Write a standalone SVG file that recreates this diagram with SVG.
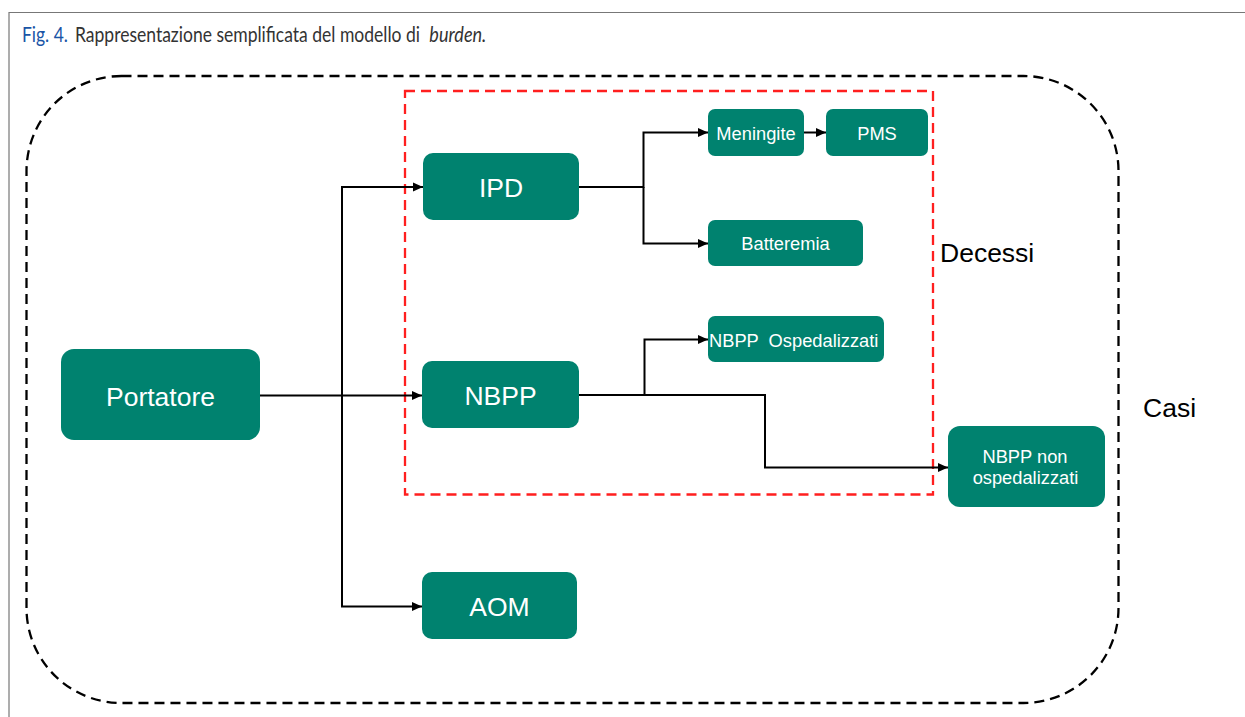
<svg xmlns="http://www.w3.org/2000/svg" width="1245" height="717" viewBox="0 0 1245 717">
  <style>
    .node { fill: #00826F; }
    .big { font-family: "Liberation Sans", Arial, sans-serif; font-size: 26.5px; fill: #ffffff; text-anchor: middle; }
    .small { font-family: "Liberation Sans", Arial, sans-serif; font-size: 18.3px; fill: #ffffff; text-anchor: middle; }
    .label { font-family: "Liberation Sans", Arial, sans-serif; font-size: 26.5px; fill: #000000; }
    .cap { font-family: Lato, "Liberation Sans", sans-serif; font-size: 20.5px; fill: #333333; }
    .edge { fill: none; stroke: #000000; stroke-width: 2; }
  </style>
  <defs>
    <marker id="arrow" viewBox="0 0 10 10" refX="10" refY="5" markerWidth="10" markerHeight="10" markerUnits="userSpaceOnUse" orient="auto">
      <path d="M0,0.5 L10,5 L0,9.5 Z" fill="#000000"/>
    </marker>
  </defs>

  <rect width="1245" height="717" fill="#ffffff"/>

  <!-- page frame -->
  <g id="frame" stroke="#777777" stroke-width="1.2" fill="none">
    <path d="M9,717 V12.5 H1245"/>
  </g>

  <!-- caption, set in a condensed cut by horizontal scaling -->
  <g id="caption" transform="translate(22,41.5) scale(0.76,1)">
    <text x="0" y="0" class="cap" style="fill:#1a55a6" textLength="60.5" lengthAdjust="spacingAndGlyphs">Fig. 4.</text>
    <text x="69.7" y="0" class="cap" textLength="454" lengthAdjust="spacingAndGlyphs">Rappresentazione semplificata del modello di</text>
    <text x="536" y="0" class="cap" font-style="italic" textLength="75" lengthAdjust="spacingAndGlyphs">burden.</text>
  </g>

  <!-- regions -->
  <g id="casi-region">
    <rect x="26.5" y="76" width="1092" height="627" rx="95" ry="95" fill="none" stroke="#000000" stroke-width="2.3" stroke-dasharray="10 6"/>
    <text x="1143" y="417" class="label">Casi</text>
  </g>
  <g id="decessi-region">
    <rect x="405" y="91" width="528" height="403.5" fill="none" stroke="#ff1f1f" stroke-width="2.3" stroke-dasharray="10 6"/>
    <text x="940" y="262" class="label">Decessi</text>
  </g>

  <!-- connectors -->
  <g id="connectors">
    <path class="edge" d="M260,395.5 H422" marker-end="url(#arrow)"/>
    <path class="edge" d="M342,606 V187 H423" marker-end="url(#arrow)"/>
    <path class="edge" d="M342,395.5 V606.5 H422" marker-end="url(#arrow)"/>
    <path class="edge" d="M579,187 H643.5 V132.5 H708" marker-end="url(#arrow)"/>
    <path class="edge" d="M643.5,187 V243.5 H708" marker-end="url(#arrow)"/>
    <path class="edge" d="M804,132.5 H826" marker-end="url(#arrow)"/>
    <path class="edge" d="M579,395 H644.5 V339.5 H708" marker-end="url(#arrow)"/>
    <path class="edge" d="M644.5,395 H765 V467.5 H948" marker-end="url(#arrow)"/>
  </g>

  <!-- nodes -->
  <g id="portatore">
    <rect class="node" x="61" y="349" width="199" height="91" rx="13"/>
    <text class="big" x="160.5" y="406">Portatore</text>
  </g>
  <g id="ipd">
    <rect class="node" x="423" y="153" width="156" height="67" rx="10"/>
    <text class="big" x="501" y="197">IPD</text>
  </g>
  <g id="nbpp">
    <rect class="node" x="422" y="361" width="157" height="67" rx="10"/>
    <text class="big" x="500.5" y="405">NBPP</text>
  </g>
  <g id="aom">
    <rect class="node" x="422" y="572" width="155" height="67" rx="10"/>
    <text class="big" x="499.5" y="616">AOM</text>
  </g>
  <g id="meningite">
    <rect class="node" x="708" y="109" width="96" height="47" rx="7"/>
    <text class="small" x="756" y="140">Meningite</text>
  </g>
  <g id="pms">
    <rect class="node" x="826" y="109" width="102" height="47" rx="7"/>
    <text class="small" x="877" y="140">PMS</text>
  </g>
  <g id="batteremia">
    <rect class="node" x="708" y="220" width="155" height="46" rx="7"/>
    <text class="small" x="785.5" y="250">Batteremia</text>
  </g>
  <g id="nbpp-ospedalizzati">
    <rect class="node" x="708" y="316" width="176" height="46" rx="7"/>
    <text class="small" x="709" y="347" style="text-anchor:start" xml:space="preserve">NBPP  Ospedalizzati</text>
  </g>
  <g id="nbpp-non-ospedalizzati">
    <rect class="node" x="948" y="426" width="157" height="81" rx="12"/>
    <text class="small" x="1025" y="463">NBPP non</text>
    <text class="small" x="1025.5" y="484">ospedalizzati</text>
  </g>
</svg>
